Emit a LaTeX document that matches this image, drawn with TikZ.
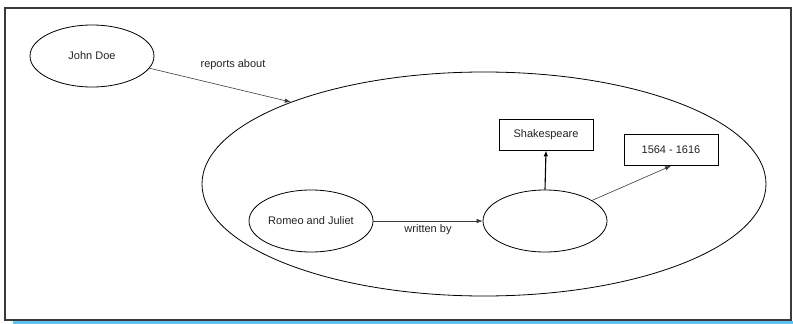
\documentclass[tikz,border=0pt]{standalone}
\usepackage{fontspec}
\setmainfont{Liberation Sans}
\usetikzlibrary{shapes.geometric,arrows.meta}
\definecolor{framegray}{HTML}{3A3A3A}
\definecolor{stripblue}{HTML}{5BC3EE}
\definecolor{inkgray}{HTML}{222222}
\tikzset{
  concept/.style={ellipse,draw=black,line width=0.8pt,inner sep=0pt,
    minimum width=124pt,minimum height=62pt,font=\fontsize{11}{13}\selectfont,text=inkgray},
  valuebox/.style={rectangle,draw=black,line width=0.8pt,inner sep=0pt,
    minimum width=94pt,minimum height=31pt,font=\fontsize{11}{13}\selectfont,text=inkgray},
  relation/.style={draw=framegray,line width=0.6pt,-{Latex[length=6pt,width=4.5pt]}},
  strongrel/.style={draw=black,line width=1.1pt,-{Latex[length=6pt,width=4.5pt]}},
  edgelabel/.style={font=\fontsize{11}{13}\selectfont,text=inkgray,inner sep=0pt}
}
\begin{document}
\begin{tikzpicture}[x=1pt,y=-1pt]
  \useasboundingbox (0,0) rectangle (793,324);
  % outer frame and bottom strip
  \fill[stripblue] (13,321) rectangle (793,324);
  \draw[framegray,line width=2pt] (4.5,7.5) rectangle (790.5,319.5);

  % statement group
  \node[ellipse,draw=black,line width=0.8pt,minimum width=564pt,minimum height=224pt,inner sep=0pt] (big) at (484,184) {};

  \node[concept] (jd) at (92,56) {John Doe};
  \node[concept] (rj) at (311,221) {Romeo and Juliet};
  \node[concept] (un) at (545,221) {};
  \node[valuebox] (sh) at (546,134.5) {Shakespeare};
  \node[valuebox] (dt) at (671,150) {1564 - 1616};

  \draw[relation] (jd.-12) -- (big.157.5);
  \node[edgelabel] (lreport) at (233,65) {reports about};

  \draw[relation] (rj.east) -- (un.west);
  \node[edgelabel] (lwritten) at (428,230) {written by};

  \draw[strongrel] (un.north) -- (sh.south);
  \draw[relation] (un) -- (dt.south);
\end{tikzpicture}
\end{document}
